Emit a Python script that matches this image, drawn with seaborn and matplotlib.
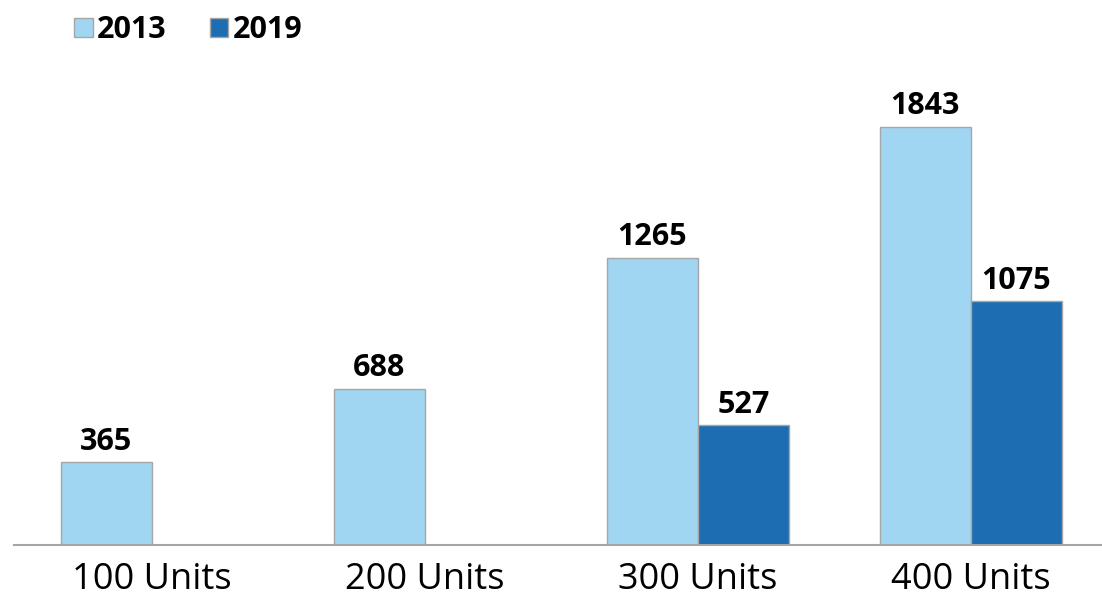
import pandas as pd
import numpy as np
import matplotlib
matplotlib.use('Agg')
import matplotlib.pyplot as plt
import seaborn as sns

categories = ['100 Units', '200 Units', '300 Units', '400 Units']
years = ['2013', '2019']
values_2013 = [365, 688, 1265, 1843]
values_2019 = [np.nan, np.nan, 527, 1075]
colors = ['#A0D6F2', '#1C6DB2']

df = pd.DataFrame({
    'Category': categories * 2,
    'Year': [years[0]] * 4 + [years[1]] * 4,
    'Value': values_2013 + values_2019,
})

sns.set_style('white')
plt.rcParams['font.family'] = ['Open Sans', 'DejaVu Sans']
plt.rcParams['text.color'] = 'black'
plt.rcParams['xtick.color'] = 'black'

fig = plt.figure(figsize=(11.02, 6.03), dpi=100)
ax = fig.add_axes([14 / 1102, 58 / 603, 1088 / 1102, 485 / 603])

sns.barplot(data=df, x='Category', y='Value', hue='Year', order=categories,
            hue_order=years, palette=colors, width=0.667, ax=ax,
            edgecolor='#A6A6A6', linewidth=1, saturation=1, errorbar=None)

for cont in ax.containers:
    labels = ['' if np.isnan(v) else f'{int(v)}' for v in cont.datavalues]
    ax.bar_label(cont, labels=labels, padding=4, fontsize=22, fontweight='bold', color='black')

ax.set_xlim(-0.505, 3.48)
ax.set_ylim(0, 2138)
ax.set_yticks([])
ax.set_xlabel('')
ax.set_ylabel('')
ax.tick_params(axis='x', length=0, pad=12, labelsize=26, labelcolor='black')
for s in ['top', 'left', 'right']:
    ax.spines[s].set_visible(False)
ax.spines['bottom'].set_color('#A6A6A6')
ax.spines['bottom'].set_linewidth(1.5)

ax.legend(loc='upper left', bbox_to_anchor=(56 / 1102, 1.005), bbox_transform=fig.transFigure,
          ncol=2, frameon=False, prop={'weight': 'bold', 'size': 22},
          handlelength=0.6, handleheight=0.6, handletextpad=0.15, columnspacing=1.4,
          borderaxespad=0.2)

fig.savefig('out.png', dpi=100)
